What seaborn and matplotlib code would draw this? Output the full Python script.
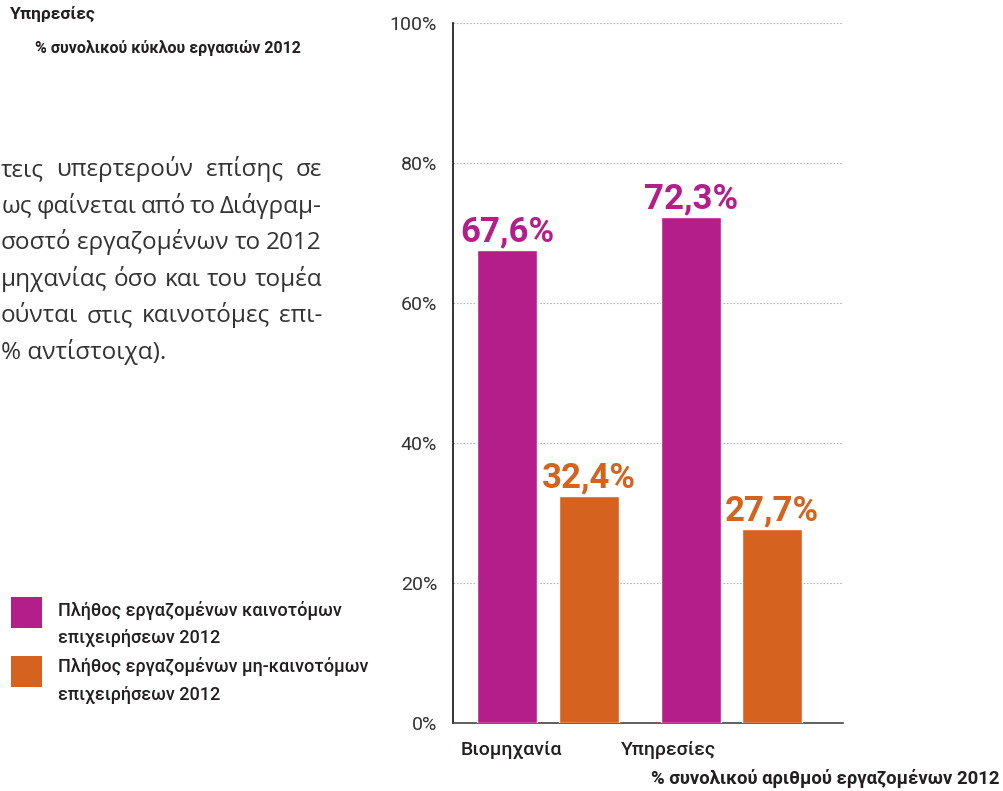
import matplotlib
matplotlib.use("Agg")
import matplotlib.pyplot as plt
from matplotlib import font_manager as fm
from matplotlib.patches import Rectangle
import pandas as pd
import seaborn as sns

# --- data -------------------------------------------------------------
sectors = ["Βιομηχανία", "Υπηρεσίες"]
series_names = ["Πλήθος εργαζομένων καινοτόμων\nεπιχειρήσεων 2012",
                "Πλήθος εργαζομένων μη-καινοτόμων\nεπιχειρήσεων 2012"]
innovative = [67.6, 72.3]
non_innovative = [32.4, 27.7]
y_ticks = [0, 20, 40, 60, 80, 100]
y_tick_labels = ["0%", "20%", "40%", "60%", "80%", "100%"]

MAGENTA = "#B41E8B"
ORANGE = "#D5621F"
INK = "#231F20"

# --- fonts ------------------------------------------------------------
sns.set_theme(style="white")
available = {f.name for f in fm.fontManager.ttflist}
NARROW = "Liberation Sans Narrow" if "Liberation Sans Narrow" in available else "Roboto"
plt.rcParams["font.family"] = [NARROW, "DejaVu Sans"]

df = pd.DataFrame({
    "sector": sectors * 2,
    "value": innovative + non_innovative,
    "series": [series_names[0]] * len(sectors) + [series_names[1]] * len(sectors),
})

W, H = 1004, 791
fig = plt.figure(figsize=(W / 100, H / 100), dpi=100)
fig.patch.set_facecolor("white")


def fx(px):
    return px / W


def fy(py):
    return 1 - py / H


ax = fig.add_axes([fx(453), fy(723), fx(843) - fx(453), fy(23) - fy(723)])

sns.barplot(data=df, x="sector", y="value", hue="series",
            palette=[MAGENTA, ORANGE], saturation=1, width=0.888, gap=0.264,
            legend=False, ax=ax, zorder=3)

ax.set_xlim(-0.518, 1.608)
ax.set_ylim(0, 100)
ax.set_yticks(y_ticks)
ax.set_yticklabels(y_tick_labels, family=["Roboto", "DejaVu Sans"], fontsize=14, color="#333333")
ax.tick_params(axis="y", length=0, pad=11.5)
ax.set_xticks([])
ax.set_xlabel("")
ax.set_ylabel("")

ax.yaxis.grid(True, linestyle=(0, (1.5, 1.5)), color="#b5b5b5", linewidth=0.8, zorder=0)
ax.xaxis.grid(False)
for side in ("top", "right"):
    ax.spines[side].set_visible(False)
ax.spines["left"].set_color("#111111")
ax.spines["left"].set_linewidth(1.2)
ax.spines["bottom"].set_color("#444444")
ax.spines["bottom"].set_linewidth(1.2)

# value labels above the bars
colors = [MAGENTA, ORANGE]
for container, color in zip(ax.containers, colors):
    for bar in container:
        v = bar.get_height()
        ax.annotate(f"{v:.1f}%".replace(".", ","),
                    (bar.get_x() + bar.get_width() / 2, v),
                    xytext=(0, 1), textcoords="offset points",
                    ha="center", va="bottom", fontsize=25, fontweight="bold",
                    color=color, zorder=4)

# sector labels under the axis
sector_x = [511, 668]
for name, px in zip(sectors, sector_x):
    fig.text(fx(px), fy(750), name, ha="center", va="center",
             fontsize=14, fontweight="medium", color=INK)

fig.text(fx(1000), fy(778), "% συνολικού αριθμού εργαζομένων 2012",
         ha="right", va="center", fontsize=13.3, fontweight="bold", color=INK)

# legend
legend_rows = [(597, MAGENTA, 610, 638), (656, ORANGE, 667, 695)]
for (top, color, y1, y2), label in zip(legend_rows, series_names):
    fig.add_artist(Rectangle((fx(11), fy(top + 31)), fx(31), 31 / H,
                             transform=fig.transFigure, facecolor=color,
                             edgecolor="none"))
    first, second = label.split("\n")
    fig.text(fx(58), fy(y1), first, ha="left", va="center", fontsize=13,
             fontweight="medium", color=INK)
    fig.text(fx(58), fy(y2), second, ha="left", va="center", fontsize=13,
             fontweight="medium", color=INK)

# heading of the neighbouring panel
fig.text(fx(10), fy(14), "Υπηρεσίες", ha="left", va="center",
         fontsize=12.5, fontweight="bold", color=INK)
fig.text(fx(35), fy(48), "% συνολικού κύκλου εργασιών 2012", ha="left",
         va="center", fontsize=11.5, fontweight="bold", color=INK)

# body text of the page, justified between a left start and the right margin
body_lines = [
    ("τεις υπερτερούν επίσης σε", 1),
    ("ως φαίνεται από το Διάγραμ-", 2),
    ("σοστό εργαζομένων το 2012", 1),
    ("μηχανίας όσο και του τομέα", 1),
    ("ούνται στις καινοτόμες επι-", 1),
]
body_font = ["Open Sans", "DejaVu Sans"]
body_size = 17.5
right_edge = 322
renderer = fig.canvas.get_renderer()
for i, (line, left) in enumerate(body_lines):
    baseline = fy(176 + 36.6 * i)
    words = line.split(" ")
    artists = [fig.text(0, baseline, w, ha="left", va="baseline",
                        fontsize=body_size, color="#333333", family=body_font)
               for w in words]
    widths = [a.get_window_extent(renderer).width for a in artists]
    space = (right_edge - left - sum(widths)) / (len(words) - 1)
    x = left
    for a, w in zip(artists, widths):
        a.set_x(fx(x))
        x += w + space
fig.text(fx(1), fy(176 + 36.6 * 5), "% αντίστοιχα).", ha="left", va="baseline",
         fontsize=body_size, color="#333333", family=body_font)

fig.savefig("out.png", dpi=100, facecolor="white")
